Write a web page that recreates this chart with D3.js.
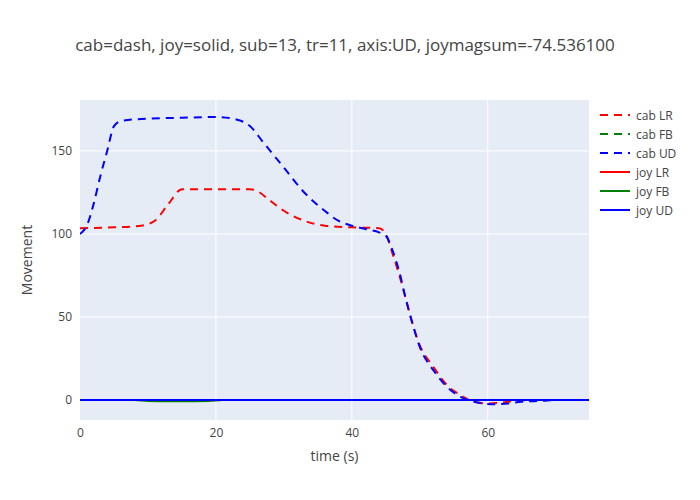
<!DOCTYPE html>
<html><head><meta charset="utf-8">
<script src="https://cdn.jsdelivr.net/npm/d3@7"></script>
<style>body{margin:0;background:#fff}text{font-family:"Open Sans",Verdana,sans-serif}</style>
</head><body><svg id="chart" width="700" height="500"></svg>
<script>
// data
const cabLR = [[0,103.5],[5,104],[9,105],[11,108],[13,118],[15,127],[20,127],[25,127],[26,126],[28,120],[30,114],[33,108],[36,105],[40,104],[44,103.5],[45,100],[46,88],[47,75],[48,60],[49,45],[50,33],[52,20],[54,9],[56,3],[58,-1],[60,-2],[62,-1.5],[64,-0.5],[66,0],[75,0]];
const cabFB = [[0,0],[20,0],[40,0],[60,0],[75,0]];
const cabUD = [[0,100],[1,105],[2,118],[3,135],[4,150],[5,165],[6,168],[10,169.5],[15,170],[20,170.5],[23,169],[25,165],[27,155],[30,140],[33,125],[36,114],[38,108],[40,105],[42,103],[44,101],[45,99],[46,90],[47,77],[48,60],[49,45],[50,32],[52,18],[54,8],[56,2],[58,-1],[61,-2.5],[63,-2],[65,-1],[68,-0.5],[70,0],[75,0]];
const joyLR = [[0,0],[75,0]];
const joyFB = [[0,0],[8,0],[10,-0.6],[15,-0.7],[19,-0.5],[21,0],[75,0]];
const joyUD = [[0,0],[75,0]];
const xTicks = [0,20,40,60];
const yTicks = [0,50,100,150];

const series = [
  {name:"cab LR", data:cabLR, color:"red", dash:"8,6"},
  {name:"cab FB", data:cabFB, color:"green", dash:"8,6"},
  {name:"cab UD", data:cabUD, color:"blue", dash:"8,6"},
  {name:"joy LR", data:joyLR, color:"red", dash:null},
  {name:"joy FB", data:joyFB, color:"green", dash:null},
  {name:"joy UD", data:joyUD, color:"blue", dash:null}
];

const m = {left:80, top:100, right:111, bottom:80};
const W = 700, H = 500;
const svg = d3.select("#chart");
const x = d3.scaleLinear().domain([0,74.9]).range([m.left, W-m.right]);
const y = d3.scaleLinear().domain([-12,180.7]).range([H-m.bottom, m.top]);

svg.append("rect").attr("x",m.left).attr("y",m.top)
  .attr("width",W-m.left-m.right).attr("height",H-m.top-m.bottom).attr("fill","#e5ecf6");

const grid = svg.append("g");
grid.selectAll(".vx").data(xTicks.filter(d=>d>0)).enter().append("line")
  .attr("x1",x).attr("x2",x).attr("y1",m.top).attr("y2",H-m.bottom)
  .attr("stroke","#fff").attr("stroke-width",1);
grid.selectAll(".hy").data(yTicks).enter().append("line")
  .attr("y1",y).attr("y2",y).attr("x1",m.left).attr("x2",W-m.right)
  .attr("stroke","#fff").attr("stroke-width",d=>d===0?2:1);

const xAxis = svg.append("g").attr("transform",`translate(0,${H-m.bottom})`)
  .call(d3.axisBottom(x).tickValues(xTicks).tickSize(0).tickPadding(8));
const yAxis = svg.append("g").attr("transform",`translate(${m.left},0)`)
  .call(d3.axisLeft(y).tickValues(yTicks).tickSize(0).tickPadding(8));
[xAxis,yAxis].forEach(a=>{
  a.select(".domain").remove();
  a.selectAll("text").attr("fill","#444").style("font-size","12px");
});

const line = d3.line().x(d=>x(d[0])).y(d=>y(d[1])).curve(d3.curveMonotoneX);
const clip = svg.append("clipPath").attr("id","clip").append("rect")
  .attr("x",m.left).attr("y",m.top).attr("width",W-m.left-m.right).attr("height",H-m.top-m.bottom);
const plot = svg.append("g").attr("clip-path","url(#clip)");
plot.selectAll("path").data(series).enter().append("path")
  .attr("d",d=>line(d.data)).attr("fill","none")
  .attr("stroke",d=>d.color).attr("stroke-width",2)
  .attr("stroke-dasharray",d=>d.dash);

const leg = svg.append("g").attr("transform","translate(600,115)");
const items = leg.selectAll("g").data(series).enter().append("g")
  .attr("transform",(d,i)=>`translate(0,${i*19})`);
items.append("line").attr("x1",0).attr("x2",30).attr("y1",0).attr("y2",0)
  .attr("stroke",d=>d.color).attr("stroke-width",2).attr("stroke-dasharray",d=>d.dash);
items.append("text").attr("x",36).attr("y",4.5).text(d=>d.name)
  .attr("fill","#444").style("font-size","12px");

svg.append("text").attr("x",345).attr("y",51).attr("text-anchor","middle")
  .attr("fill","#444").style("font-size","17px")
  .text("cab=dash, joy=solid, sub=13, tr=11, axis:UD, joymagsum=-74.536100");
svg.append("text").attr("x",(m.left+W-m.right)/2).attr("y",461).attr("text-anchor","middle")
  .attr("fill","#444").style("font-size","14px").text("time (s)");
svg.append("text").attr("transform",`translate(32,${(m.top+H-m.bottom)/2}) rotate(-90)`)
  .attr("text-anchor","middle").attr("fill","#444").style("font-size","14px").text("Movement");
</script></body></html>
